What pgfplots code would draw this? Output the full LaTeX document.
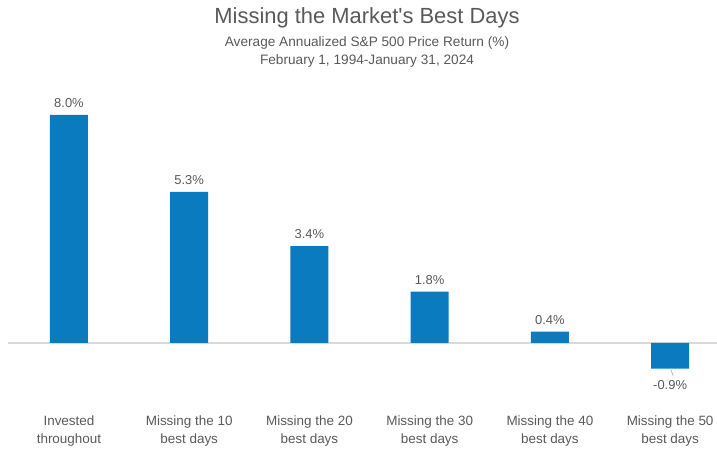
\documentclass[border=0pt]{standalone}
\usepackage{pgfplots}
\pgfplotsset{compat=1.18}
\usepackage{fontspec}
\setmainfont{Liberation Sans}[Ligatures=TeXOff]
\definecolor{barblue}{HTML}{0A7BBE}
\definecolor{txtgray}{HTML}{595959}
\definecolor{linegray}{HTML}{D9D9D9}
\begin{document}
\begin{tikzpicture}[x=1bp,y=1bp]
\path[use as bounding box] (0,0) rectangle (717,452);
\begin{axis}[
  at={(8bp,43.45bp)}, anchor=south west,
  scale only axis, width=709bp, height=322.05bp,
  xmin=-0.507, xmax=5.39, ymin=-2.3, ymax=9,
  ybar, bar width=38bp,
  axis line style={draw=none},
  major tick length=0pt,
  ytick=\empty,
  xtick={0,1,2,3,4,5},
  xticklabels={{Invested\\throughout},{Missing the 10\\best days},{Missing the 20\\best days},{Missing the 30\\best days},{Missing the 40\\best days},{Missing the 50\\best days}},
  xticklabel style={align=center, font=\fontsize{13.5}{18}\selectfont, text=txtgray, inner sep=3bp, yshift=-4bp},
  /pgf/number format/assume math mode=true,
  visualization depends on={y \as \rawy},
  nodes near coords={\pgfmathprintnumber[fixed,fixed zerofill,precision=1]{\pgfplotspointmeta}\%},
  every node near coord/.append style={font=\fontsize{13}{15}\selectfont, text=txtgray, inner sep=7bp, yshift={ifthenelse(\rawy<0,-5,0)}},
  clip=false,
]
\draw[linegray, line width=1.2bp] (axis cs:-0.507,0) -- (axis cs:5.39,0);
\addplot[fill=barblue, draw=none] coordinates {(0,8.0) (1,5.3) (2,3.4) (3,1.8) (4,0.4) (5,-0.9)};
\draw[gray!70, line width=0.6bp] (axis cs:5.006,-0.93) -- (axis cs:5.025,-1.15);
\end{axis}
\node[text=txtgray, font=\fontsize{22}{24}\selectfont] at (367,452-18) {Missing the Market's Best Days};
\node[text=txtgray, font=\fontsize{13.7}{15}\selectfont] at (367,452-43) {Average Annualized S\&P 500 Price Return (\%)};
\node[text=txtgray, font=\fontsize{13.7}{15}\selectfont] at (367,452-61) {February 1, 1994-January 31, 2024};
\end{tikzpicture}
\end{document}
